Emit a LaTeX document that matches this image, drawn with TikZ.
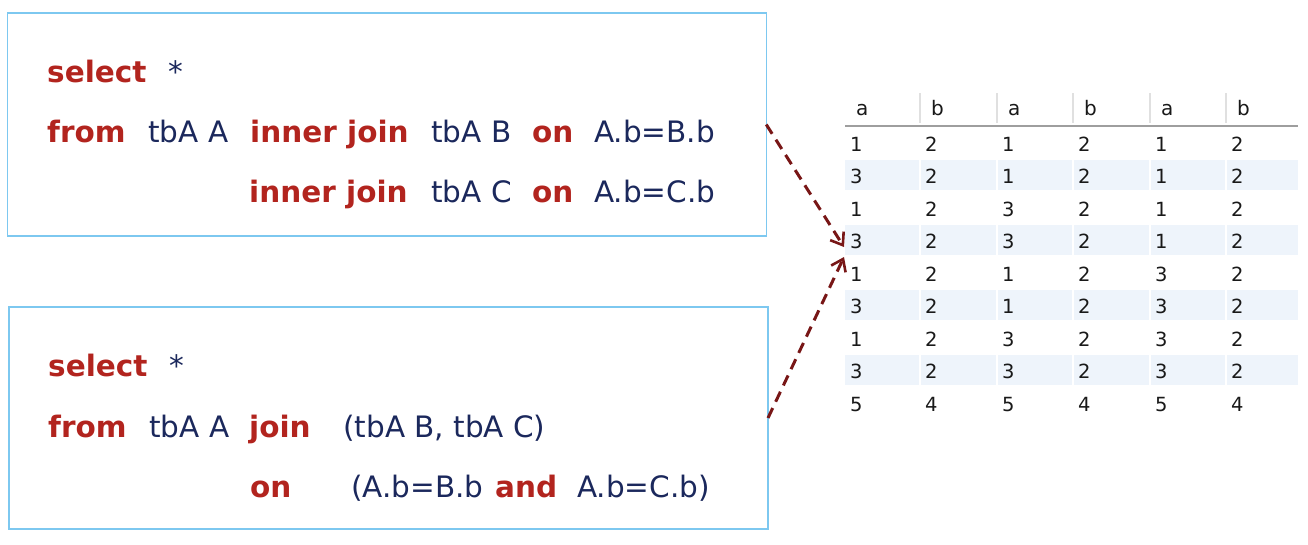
\documentclass[tikz,border=0pt]{standalone}
\usepackage{fontspec}
\setmainfont{DejaVu Sans}
\usetikzlibrary{arrows.meta}
\definecolor{kwred}{RGB}{178,36,30}
\definecolor{codeblue}{RGB}{27,40,92}
\definecolor{boxblue}{RGB}{125,200,240}
\definecolor{arrred}{RGB}{120,22,22}
\definecolor{rowfill}{RGB}{238,244,251}
\definecolor{celltext}{RGB}{25,25,25}
\tikzset{
  codebox/.style={draw=boxblue, line width=1.2pt, inner sep=0pt, outer sep=0pt},
  kwtext/.style={text=kwred, font=\fontsize{29.5}{35}\selectfont\bfseries, inner sep=0pt, anchor=base west},
  identtext/.style={text=codeblue, font=\fontsize{29.5}{35}\selectfont, inner sep=0pt, anchor=base west},
  cell/.style={text=celltext, font=\fontsize{19.5}{21}\selectfont, inner sep=0pt, anchor=base west},
  hcell/.style={text=celltext, font=\fontsize{20}{22}\selectfont, inner sep=0pt, anchor=base west},
  arr/.style={draw=arrred, line width=3pt, dash pattern=on 11pt off 7pt, -{Straight Barb[length=11pt,width=16pt,line width=2.6pt]}},
}
\begin{document}
\begin{tikzpicture}[x=1pt,y=-1pt]
\useasboundingbox (0,0) rectangle (1308,544);
% boxes
\node[codebox, minimum width=758.5pt, minimum height=223pt] (box1) at (387,124.5) {};
\node[codebox, minimum width=759pt, minimum height=222pt] (box2) at (388.5,418) {};
% query 1
\node[kwtext] (q1s) at (47,82) {select};
\node[identtext] (q1star) at (168,82) {*};
\node[kwtext] (q1f) at (47,142) {from};
\node[identtext] (q1a) at (148,142) {tbA A};
\node[kwtext] (q1j1) at (250,142) {inner join};
\node[identtext] (q1b) at (431,142) {tbA B};
\node[kwtext] (q1o1) at (532,142) {on};
\node[identtext] (q1c1) at (594,142) {A.b=B.b};
\node[kwtext] (q1j2) at (249,202) {inner join};
\node[identtext] (q1c) at (431,202) {tbA C};
\node[kwtext] (q1o2) at (532,202) {on};
\node[identtext] (q1c2) at (594,202) {A.b=C.b};
% query 2
\node[kwtext] (q2s) at (48,376) {select};
\node[identtext] (q2star) at (169,376) {*};
\node[kwtext] (q2f) at (48,437) {from};
\node[identtext] (q2a) at (149,437) {tbA A};
\node[kwtext] (q2j) at (249,437) {join};
\node[identtext] (q2bc) at (343,437) {(tbA B, tbA C)};
\node[kwtext] (q2o) at (250,497) {on};
\node[identtext] (q2c1) at (351,497) {(A.b=B.b};
\node[kwtext] (q2and) at (495,497) {and};
\node[identtext] (q2c2) at (577,497) {A.b=C.b)};
% table shading
\foreach \xa/\xb in {845/919,921/996,998/1072,1074/1149,1151/1225,1227/1298}
  \foreach \yt in {160,225,290,355}
    \fill[rowfill] (\xa,\yt) rectangle (\xb,\yt+30);
% header separators and line
\foreach \x in {920,997,1073,1150,1226}
  \draw[line width=1.5pt, black!12] (\x,93) -- (\x,123);
\draw[line width=2pt, black!38] (845,125.5) -- (1298,125.5);
% header
\foreach \t [count=\c] in {a,b,a,b,a,b} {
  \pgfmathsetmacro\cx{{845,920,997,1073,1150,1226}[\c-1]+11}
  \node[hcell] (h-\c) at (\cx,115) {\t};
}
% cells
\foreach \rowdata [count=\r] in {{1,2,1,2,1,2},{3,2,1,2,1,2},{1,2,3,2,1,2},{3,2,3,2,1,2},{1,2,1,2,3,2},{3,2,1,2,3,2},{1,2,3,2,3,2},{3,2,3,2,3,2},{5,4,5,4,5,4}} {
  \foreach \v [count=\c] in \rowdata {
    \pgfmathsetmacro\cx{{845,920,997,1073,1150,1226}[\c-1]+5}
    \node[cell] (cell-\r-\c) at (\cx,{151+32.5*(\r-1)}) {\v};
  }
}
% arrows
\coordinate (t1) at (844,247);
\coordinate (t2) at (844,257);
\draw[arr] (box1.east) -- (t1);
\draw[arr] (box2.east) -- (t2);
\end{tikzpicture}
\end{document}
